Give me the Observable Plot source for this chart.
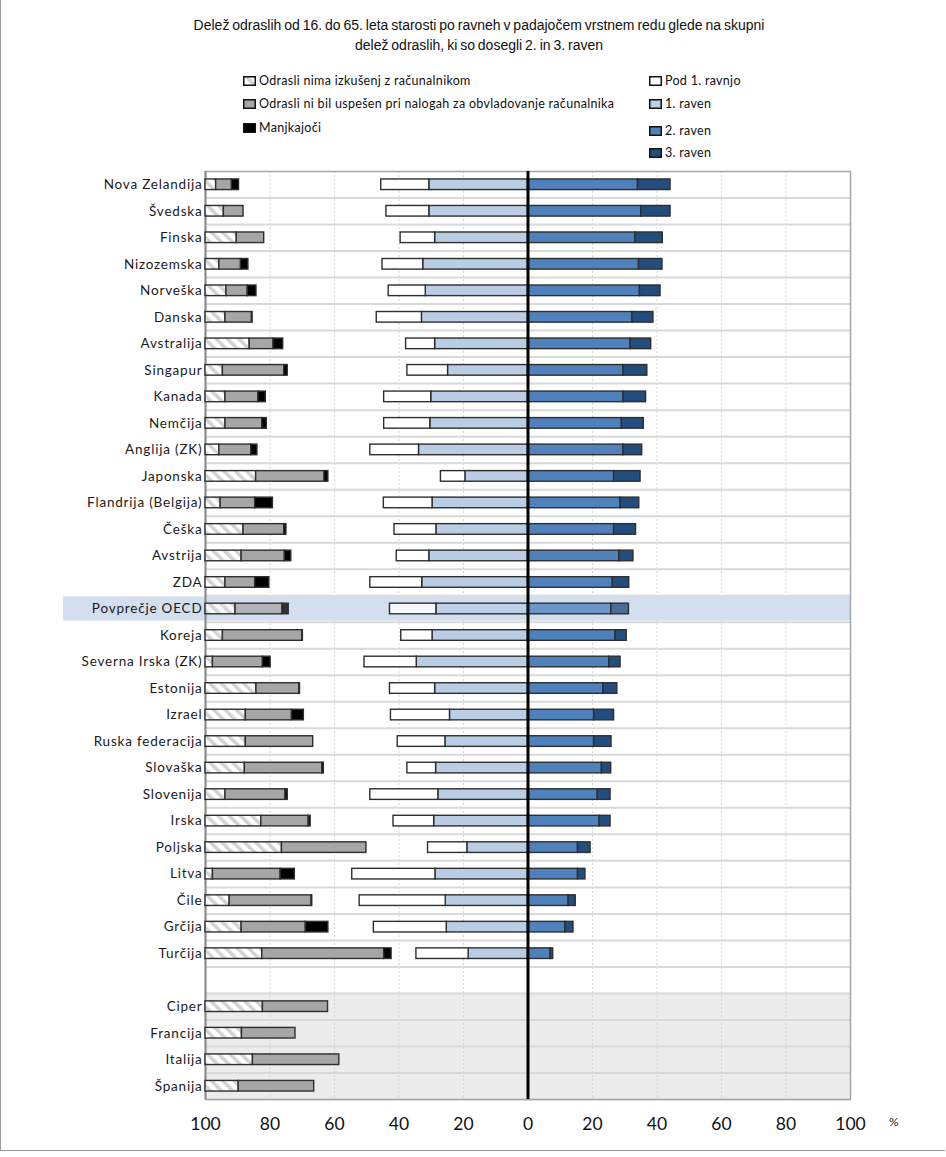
<!DOCTYPE html>
<html>
<head>
<meta charset="utf-8">
<script src="https://cdn.jsdelivr.net/npm/d3@7"></script>
<script src="https://cdn.jsdelivr.net/npm/@observablehq/plot@0.6"></script>
<style>
  html, body { margin: 0; padding: 0; background: #fff; }
  #wrap { position: relative; width: 944px; height: 1150px; border: 1px solid #9a9a9a; border-top: none; border-right: none; overflow: hidden; }
  #title { position: absolute; top: 15px; left: 0; width: 956px; text-align: center; font-family: "Liberation Sans", Arial, sans-serif; font-size: 14px; line-height: 20px; color: #111; word-spacing: -1px; }
  .leg { position: absolute; font-family: Lato, sans-serif; font-size: 12.5px; color: #111; letter-spacing: 0.3px; white-space: nowrap; display: flex; align-items: center; }
  .leg svg { margin-right: 3px; }
  #chart { position: absolute; top: 160px; left: 0; width: 946px; }
  #chart svg { max-width: none; }
  #pct { position: absolute; left: 888px; top: 1114px; font-family: Lato, sans-serif; font-size: 12px; color: #222; }
  g[aria-label="y-axis tick label"] text { letter-spacing: 0.8px; }
</style>
</head>
<body>
<div id="wrap">
  <div id="title">Delež odraslih od 16. do 65. leta starosti po ravneh v padajočem vrstnem redu glede na skupni<br>delež odraslih, ki so dosegli 2. in 3. raven</div>
  <div id="legend"></div>
  <div id="chart"></div>
  <div id="pct">%</div>
</div>
<script>
// ---------- data ----------
const countries = ["Nova Zelandija", "Švedska", "Finska", "Nizozemska", "Norveška", "Danska", "Avstralija", "Singapur", "Kanada", "Nemčija", "Anglija (ZK)", "Japonska", "Flandrija (Belgija)", "Češka", "Avstrija", "ZDA", "Povprečje OECD", "Koreja", "Severna Irska (ZK)", "Estonija", "Izrael", "Ruska federacija", "Slovaška", "Slovenija", "Irska", "Poljska", "Litva", "Čile", "Grčija", "Turčija"];
const extraCountries = ["Ciper", "Francija", "Italija", "Španija"];

// left panel (countries followed by extraCountries)
const noExperience = [3.3, 5.7, 9.7, 4.3, 6.5, 6.2, 13.7, 5.4, 6.2, 6.2, 4.3, 15.7, 4.7, 11.8, 11.2, 6.2, 9.3, 5.4, 2.3, 15.8, 12.5, 12.5, 12.2, 6.2, 17.3, 23.7, 2.3, 7.5, 11.2, 17.6, 17.8, 11.3, 14.7, 10.3];
const failedCore = [4.9, 6.1, 8.5, 6.7, 6.6, 8.2, 7.4, 19.0, 10.2, 11.4, 9.9, 21.2, 10.7, 12.6, 13.4, 9.2, 14.6, 24.6, 15.5, 13.3, 14.3, 20.9, 24.0, 18.6, 14.7, 26.2, 21.0, 25.4, 19.9, 37.8, 20.2, 16.6, 26.8, 23.4];
const missing = [2.2, 0, 0, 2.3, 2.7, 0.2, 3.0, 1.1, 2.3, 1.4, 1.9, 1.2, 5.5, 0.7, 2.0, 4.4, 1.9, 0.2, 2.4, 0.2, 3.7, 0, 0.5, 0.7, 0.6, 0, 4.4, 0.2, 7.0, 2.3, 0, 0, 0, 0];

// proficiency levels (countries only)
const belowLevel1 = [14.9, 13.3, 10.7, 12.6, 11.5, 14.0, 9.0, 12.6, 14.6, 14.3, 15.1, 7.6, 15.1, 13.0, 10.1, 16.1, 14.4, 9.7, 16.2, 14.0, 18.3, 14.8, 8.9, 21.1, 12.6, 12.2, 25.8, 26.7, 22.6, 16.2];
const level1 = [30.6, 30.6, 28.8, 32.5, 31.7, 32.9, 28.8, 24.8, 30.0, 30.3, 33.8, 19.4, 29.6, 28.4, 30.6, 32.8, 28.4, 29.6, 34.5, 28.8, 24.2, 25.6, 28.5, 27.8, 29.1, 18.8, 28.7, 25.5, 25.2, 18.4];
const level2 = [34.1, 35.1, 33.3, 34.4, 34.7, 32.4, 31.8, 29.6, 29.6, 29.1, 29.6, 26.7, 28.7, 26.7, 28.3, 26.3, 25.8, 27.1, 25.2, 23.4, 20.5, 20.5, 22.9, 21.6, 22.2, 15.5, 15.5, 12.6, 11.6, 7.0];
const level3 = [10.1, 9.1, 8.5, 7.3, 6.4, 6.5, 6.4, 7.4, 7.0, 6.8, 5.8, 8.2, 5.8, 6.8, 4.4, 5.1, 5.5, 3.5, 3.5, 4.3, 6.2, 5.4, 2.9, 4.0, 3.4, 3.9, 2.3, 2.2, 2.5, 0.8];

const xTicks = [-100, -80, -60, -40, -20, 0, 20, 40, 60, 80, 100];
const legendLeft = ["Odrasli nima izkušenj z računalnikom", "Odrasli ni bil uspešen pri nalogah za obvladovanje računalnika", "Manjkajoči"];
const legendRight = ["Pod 1. ravnjo", "1. raven", "2. raven", "3. raven"];
const highlightRow = "Povprečje OECD";

// ---------- styles ----------
const C = {
  hatch: "url(#hatch)", gray: "#a6a6a6", black: "#000000",
  below: "#ffffff", l1: "#b9cde5", l2: "#4f81bd", l3: "#234d7e",
  stroke: "#2e2e2e"
};

// ---------- derived tables ----------
const allLeft = countries.concat(extraCountries);
const yDomain = countries.concat([" "], extraCountries);

const segs = [];
allLeft.forEach((c, i) => {
  let a = -100;
  [[noExperience[i], C.hatch], [failedCore[i], C.gray], [missing[i], C.black]].forEach(([v, f]) => {
    if (v > 0) segs.push({y: c, x1: a, x2: a + v, fill: f});
    a += v;
  });
});
countries.forEach((c, i) => {
  segs.push({y: c, x1: -level1[i], x2: 0, fill: C.l1});
  segs.push({y: c, x1: -level1[i] - belowLevel1[i], x2: -level1[i], fill: C.below});
  segs.push({y: c, x1: 0, x2: level2[i], fill: C.l2});
  segs.push({y: c, x1: level2[i], x2: level2[i] + level3[i], fill: C.l3});
});

// ---------- layout ----------
const W = 946, H = 985, mT = 11, mB = 46, mL = 204, mR = 97;
const step = (H - mT - mB) / yDomain.length;
const barInset = step * 0.3;

const plot = Plot.plot({
  width: W, height: H,
  marginTop: mT, marginBottom: mB, marginLeft: mL, marginRight: mR,
  style: {fontFamily: "Lato, sans-serif", color: "#111", background: "transparent"},
  x: {domain: [-100, 100]},
  y: {type: "band", domain: yDomain, padding: 0, round: false},
  marks: [
    Plot.barX(extraCountries, {x1: () => -100, x2: () => 100, y: d => d, fill: "#ececec"}),
    Plot.ruleX(xTicks.filter(d => d !== 0 && Math.abs(d) !== 100), {stroke: "#d6d6d6", strokeDasharray: "2,2", strokeWidth: 1}),
    Plot.ruleY(yDomain, {y: d => d, dy: step / 2, stroke: "#d9d9d9", strokeWidth: 2}),
    Plot.barX([highlightRow], {x1: () => -100, x2: () => 100, y: d => d, fill: "#d3dfef", insetTop: 1.2, insetBottom: 1.2, insetLeft: -142}),
    Plot.frame({stroke: "#a6a6a6", strokeWidth: 1.5}),
    Plot.ruleX([-100], {stroke: "#8c8c8c", strokeWidth: 2}),
    Plot.barX(segs, {x1: "x1", x2: "x2", y: "y", fill: d => d.fill, fillOpacity: d => d.y === highlightRow ? 0.78 : 1, stroke: C.stroke, strokeWidth: 1.4, insetTop: barInset, insetBottom: barInset}),
    Plot.ruleX([0], {stroke: "#000", strokeWidth: 3}),
    Plot.axisY({tickSize: 0, tickPadding: 3, fontSize: 13.5, label: null}),
    Plot.axisX({ticks: xTicks, tickFormat: d => Math.abs(d), tickSize: 0, tickPadding: 18, fontSize: 17.5, fontFamily: "'Liberation Sans Narrow', Lato, sans-serif", label: null})
  ]
});

// hatch pattern
d3.select(plot).insert("defs", ":first-child").html(
  `<pattern id="hatch" patternUnits="userSpaceOnUse" width="8" height="8" patternTransform="rotate(-45)">
     <rect width="8" height="8" fill="#ffffff"/>
     <rect x="0" y="0" width="3.5" height="8" fill="#d2d2d2"/>
   </pattern>`);
d3.select(plot).selectAll('g[aria-label="y-axis tick label"] text').attr("fill", "#1a1a1a");
document.getElementById("chart").appendChild(plot);

// ---------- legend ----------
const legend = document.getElementById("legend");
function swatch(fill, hatch) {
  const inner = hatch
    ? `<defs><pattern id="lh" patternUnits="userSpaceOnUse" width="8" height="8" patternTransform="rotate(-45)"><rect width="8" height="8" fill="#fff"/><rect width="3.5" height="8" fill="#d2d2d2"/></pattern></defs><rect x="0.75" y="0.75" width="11.5" height="8.5" fill="url(#lh)" stroke="#111" stroke-width="1.5"/>`
    : `<rect x="0.75" y="0.75" width="11.5" height="8.5" fill="${fill}" stroke="#111" stroke-width="1.5"/>`;
  return `<svg width="13" height="10">${inner}</svg>`;
}
const leftFills = [[null, true], [C.gray, false], [C.black, false]];
const leftY = [81, 104, 128];
legendLeft.forEach((t, i) => {
  const d = document.createElement("div");
  d.className = "leg";
  d.style.left = "242px"; d.style.top = (leftY[i] - 8) + "px";
  d.innerHTML = swatch(leftFills[i][0], leftFills[i][1]) + `<span>${t}</span>`;
  legend.appendChild(d);
});
const rightFills = [C.below, C.l1, C.l2, C.l3];
const rightY = [81, 104, 131, 153];
legendRight.forEach((t, i) => {
  const d = document.createElement("div");
  d.className = "leg";
  d.style.left = "648px"; d.style.top = (rightY[i] - 8) + "px";
  d.innerHTML = swatch(rightFills[i], false) + `<span>${t}</span>`;
  legend.appendChild(d);
});
</script>
</body>
</html>
